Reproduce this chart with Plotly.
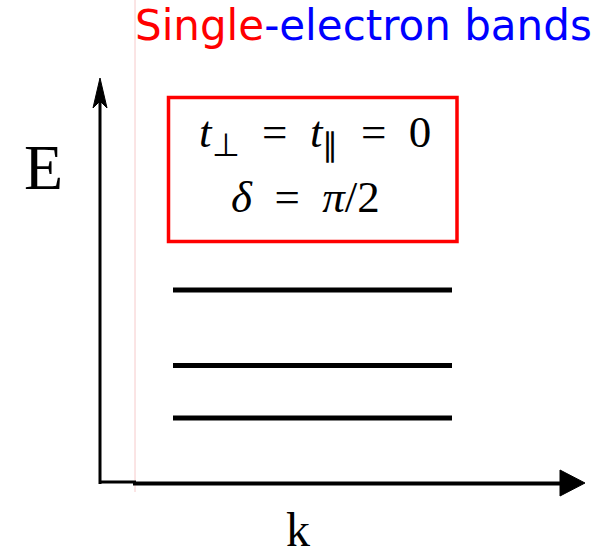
import plotly.graph_objects as go

# Flat single-electron levels (t_perp = t_par = 0, delta = pi/2)
band_energies = [3.86, 2.35, 1.30]
k_span = [-1.0, 1.0]

W, H = 608, 559


def px(x):
    return x / W


def py(y):
    return 1 - y / H


fig = go.Figure()

for e in band_energies:
    fig.add_trace(go.Scatter(
        x=k_span, y=[e, e], mode="lines",
        line=dict(color="black", width=5),
        showlegend=False, hoverinfo="skip",
    ))

shapes = []
# faint guide line
shapes.append(dict(type="line", xref="paper", yref="paper",
                   x0=px(135), x1=px(135), y0=py(0), y1=py(492),
                   line=dict(color="#f6caca", width=1)))
# vertical (E) axis
shapes.append(dict(type="line", xref="paper", yref="paper",
                   x0=px(100), x1=px(100), y0=py(484), y1=py(100),
                   line=dict(color="black", width=3)))
shapes.append(dict(type="path", xref="paper", yref="paper",
                   path=f"M {px(100)},{py(78)} L {px(107)},{py(108)} L {px(100)},{py(101)} "
                        f"L {px(93)},{py(108)} Z",
                   fillcolor="black", line=dict(color="black", width=1)))
# horizontal (k) axis
shapes.append(dict(type="line", xref="paper", yref="paper",
                   x0=px(99), x1=px(136), y0=py(482), y1=py(482),
                   line=dict(color="black", width=3)))
shapes.append(dict(type="line", xref="paper", yref="paper",
                   x0=px(133), x1=px(562), y0=py(483.5), y1=py(483.5),
                   line=dict(color="black", width=4)))
shapes.append(dict(type="path", xref="paper", yref="paper",
                   path=f"M {px(560)},{py(470)} L {px(585)},{py(483)} L {px(560)},{py(496)} Z",
                   fillcolor="black", line=dict(color="black", width=1)))
# parameter box
shapes.append(dict(type="rect", xref="paper", yref="paper",
                   x0=px(168.5), x1=px(457), y0=py(97.5), y1=py(241.5),
                   line=dict(color="#ff0000", width=3.5)))

serif = "Liberation Serif"
sp = "&nbsp;&nbsp;"
annotations = [
    dict(text="<span style='color:#ff0000'>Single</span><span style='color:#0000ff'>-electron bands</span>",
         x=px(133), y=py(26), xref="paper", yref="paper", xanchor="left", yanchor="middle",
         showarrow=False, font=dict(family="DejaVu Sans", size=42)),
    dict(text=f"<i>t</i><sub>⊥</sub>{sp}={sp}<i>t</i><sub>∥</sub>{sp}={sp}0",
         x=px(315), y=py(135), xref="paper", yref="paper", xanchor="center", yanchor="middle",
         showarrow=False, font=dict(family=serif, size=45, color="black")),
    dict(text=f"<i>δ</i>{sp}={sp}<i>π</i>/2",
         x=px(305), y=py(197), xref="paper", yref="paper", xanchor="center", yanchor="middle",
         showarrow=False, font=dict(family=serif, size=45, color="black")),
    dict(text="E", x=px(43), y=py(167), xref="paper", yref="paper",
         xanchor="center", yanchor="middle", showarrow=False,
         font=dict(family=serif, size=64, color="black")),
    dict(text="k", x=px(298), y=py(529), xref="paper", yref="paper",
         xanchor="center", yanchor="middle", showarrow=False,
         font=dict(family=serif, size=48, color="black")),
]

# map k = -1..1 onto the band span, E = 0 onto the k-axis
k_unit = 139.5
x_lo = (0 - 312.5) / k_unit
x_hi = (W - 312.5) / k_unit
e_unit = 50.0
y_hi = 483 / e_unit
y_lo = (483 - H) / e_unit

fig.update_layout(
    width=W, height=H,
    margin=dict(l=0, r=0, t=0, b=0),
    paper_bgcolor="white", plot_bgcolor="white",
    xaxis=dict(range=[x_lo, x_hi], visible=False, fixedrange=True),
    yaxis=dict(range=[y_lo, y_hi], visible=False, fixedrange=True),
    shapes=shapes, annotations=annotations,
    showlegend=False,
)

fig.write_html("out.html")
